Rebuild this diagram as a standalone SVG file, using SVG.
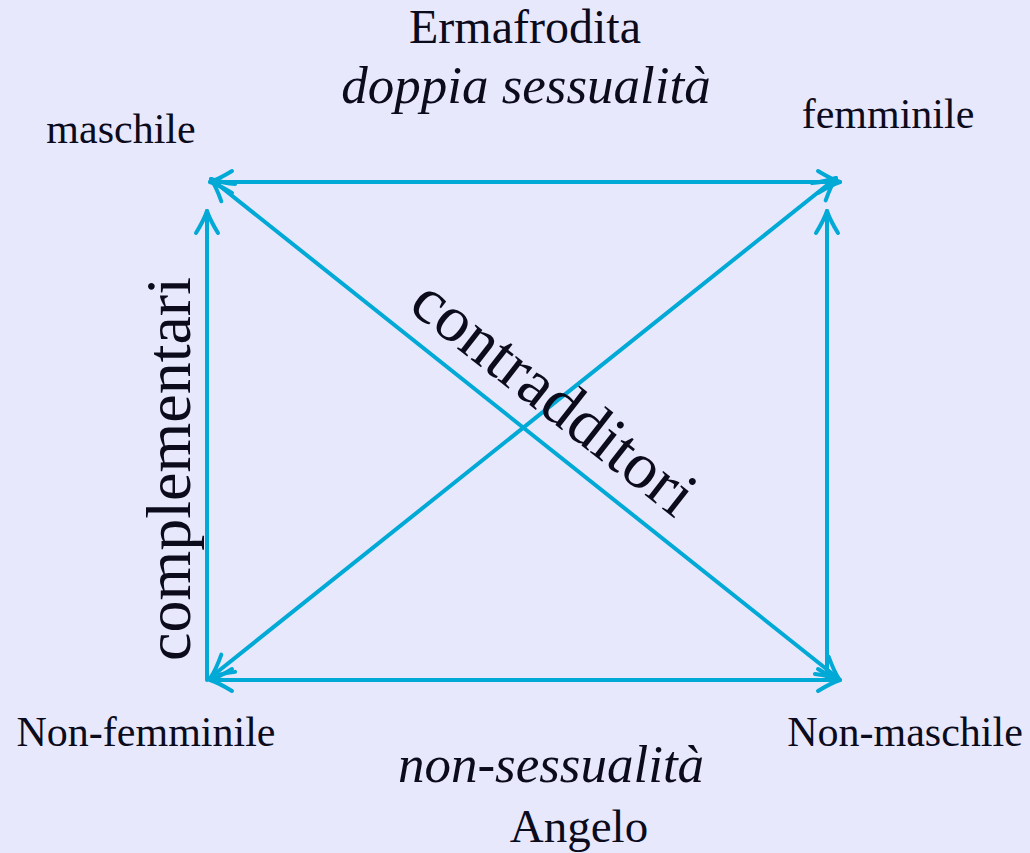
<svg xmlns="http://www.w3.org/2000/svg" width="1030" height="853" viewBox="0 0 1030 853">
<style>
.t{font-family:"Liberation Serif","Times New Roman",serif;fill:#0B0B1C;text-anchor:middle}
.i{font-style:italic}
.c{fill:none;stroke:#00A9D6;stroke-width:4;stroke-linecap:round}
</style>
<defs>
<marker id="arr" markerUnits="userSpaceOnUse" markerWidth="40" markerHeight="40" viewBox="-30 -20 40 40" refX="0" refY="0" orient="auto-start-reverse" overflow="visible">
<path d="M-22,-11 Q-9,-3 0,0 Q-9,3 -22,11" fill="none" stroke="#00A9D6" stroke-width="4" stroke-linecap="round" stroke-linejoin="round"/>
</marker>
</defs>
<rect width="1030" height="853" fill="#E8E8FC"/>
<g id="connectors">
<line class="c" x1="210" y1="182" x2="840" y2="182" marker-start="url(#arr)" marker-end="url(#arr)"/>
<line class="c" x1="210" y1="680" x2="840" y2="680" marker-start="url(#arr)" marker-end="url(#arr)"/>
<line class="c" x1="207" y1="680" x2="207" y2="211" marker-end="url(#arr)"/>
<line class="c" x1="827" y1="680" x2="827" y2="211" marker-end="url(#arr)"/>
<line class="c" x1="211" y1="179" x2="839" y2="679" marker-start="url(#arr)" marker-end="url(#arr)"/>
<line class="c" x1="211" y1="677" x2="836" y2="178" marker-start="url(#arr)" marker-end="url(#arr)"/>
</g>
<g id="ermafrodita">
<text class="t" x="525" y="43" font-size="48">Ermafrodita</text>
<text class="t i" x="526" y="103" font-size="53">doppia sessualità</text>
</g>
<g id="maschile"><text class="t" x="121" y="143" font-size="42">maschile</text></g>
<g id="femminile"><text class="t" x="888" y="128" font-size="42">femminile</text></g>
<g id="non-femminile"><text class="t" x="146" y="746" font-size="42">Non-femminile</text></g>
<g id="non-maschile"><text class="t" x="905" y="746" font-size="42">Non-maschile</text></g>
<g id="angelo">
<text class="t i" x="551" y="782" font-size="53">non-sessualità</text>
<text class="t" x="579" y="842" font-size="47">Angelo</text>
</g>
<g id="labels">
<text class="t" transform="translate(190,469) rotate(-90)" font-size="64">complementari</text>
<text class="t" transform="translate(541,414) rotate(38)" font-size="66">contradditori</text>
</g>
</svg>
